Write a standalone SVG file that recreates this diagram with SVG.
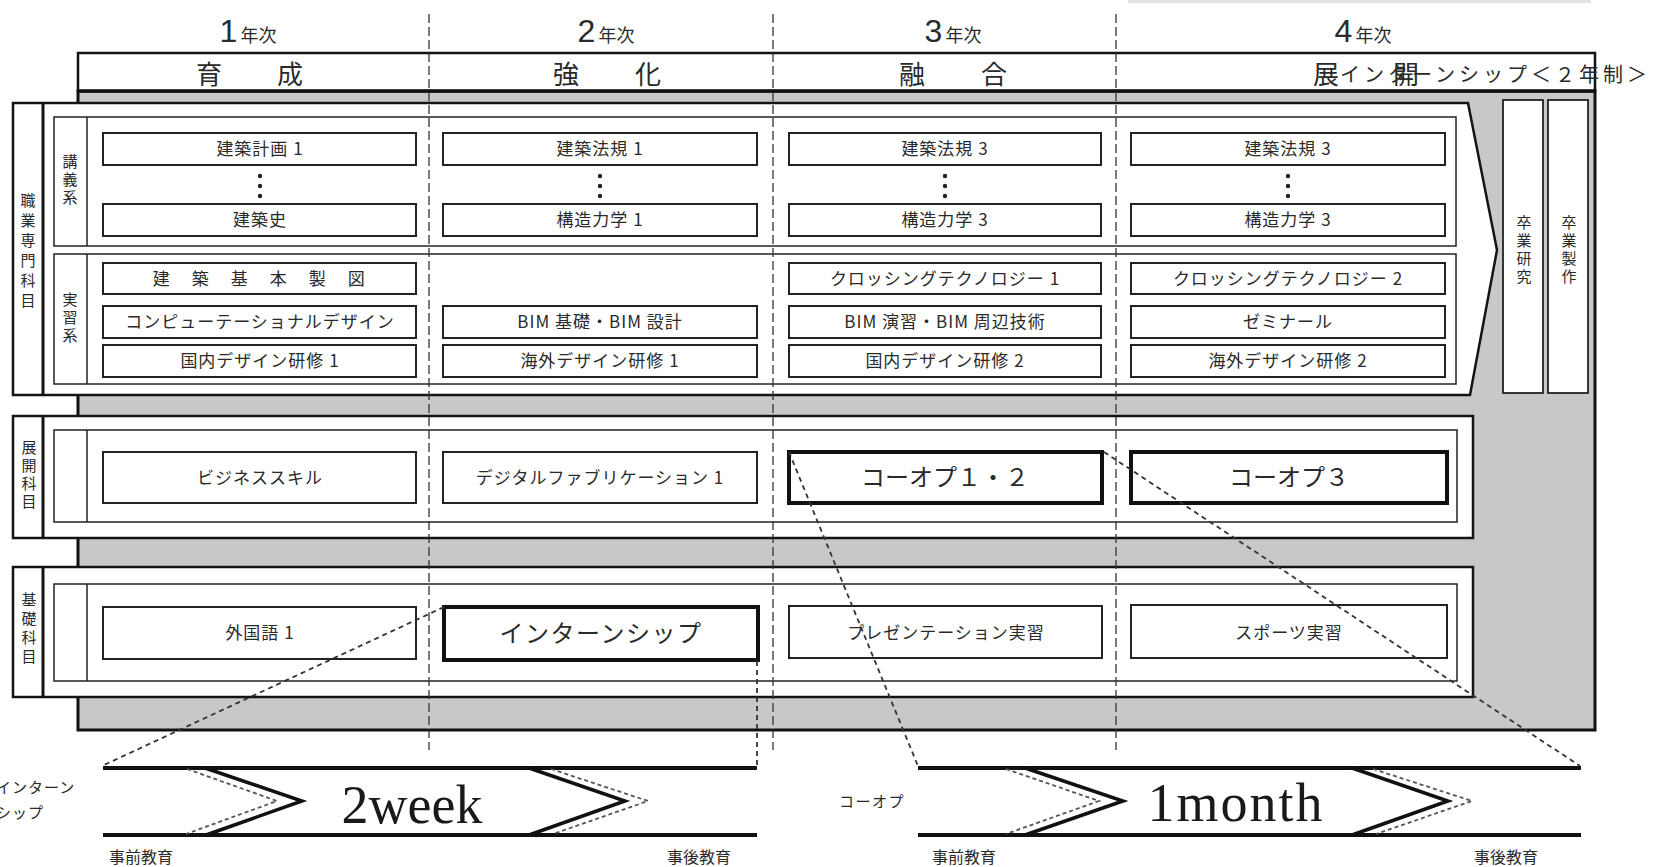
<svg xmlns="http://www.w3.org/2000/svg" width="1654" height="867" viewBox="0 0 1654 867">
<style>
text{font-family:"Noto Sans CJK JP","Noto Sans CJK SC",sans-serif;fill:#2a2a2a}
.c{font-size:17px;letter-spacing:1px;text-anchor:middle}
.cb{font-size:24px;text-anchor:middle}
.vs{font-size:15px;text-anchor:middle}
.hd{font-size:26px;text-anchor:middle}
.yr{text-anchor:middle}
.num{font-family:"Liberation Sans",sans-serif;font-size:32px}
.nen{font-size:18px}
.en{font-family:"Liberation Serif",serif;font-size:54px;text-anchor:middle;fill:#1a1a1a}
.sm{font-size:15px;letter-spacing:1px}
.ed{font-size:16px}
.blk{fill:#fff;stroke:#141414;stroke-width:2.5}
.inn{fill:#fff;stroke:#222;stroke-width:1.5}
.box{fill:#fff;stroke:#222;stroke-width:2}
.bold{fill:#fff;stroke:#111;stroke-width:4}
.col{fill:#fff;stroke:#222;stroke-width:1.8}
.div{stroke:#222;stroke-width:1.5}
.yl{stroke:#333;stroke-width:1.3;stroke-dasharray:9 4;fill:none}
.dl{stroke:#333;stroke-width:1.8;stroke-dasharray:5 4;fill:none}
.tl{stroke:#111;stroke-width:4;fill:none}
.ch{stroke:#111;stroke-width:3.5;fill:none}
.chd{stroke:#555;stroke-width:1.8;stroke-dasharray:4 3;fill:none}
.dot{fill:#222}
</style>

<rect x="1128" y="0" width="463" height="3" fill="#e2e2e2"/>

<!-- outer frame -->
<g id="frame">
<rect x="78" y="91" width="1517" height="639" fill="#c8c8c8" stroke="#111" stroke-width="3"/>
<rect x="78" y="53" width="1517" height="38" fill="#fff" stroke="#111" stroke-width="2.5"/>
<line x1="78" y1="91" x2="1595" y2="91" stroke="#111" stroke-width="3.5"/>
</g>

<!-- year labels -->
<g id="years">
<text class="yr" x="248" y="42"><tspan class="num">1</tspan><tspan class="nen" dx="3">年次</tspan></text>
<text class="yr" x="606" y="42"><tspan class="num">2</tspan><tspan class="nen" dx="3">年次</tspan></text>
<text class="yr" x="953" y="42"><tspan class="num">3</tspan><tspan class="nen" dx="3">年次</tspan></text>
<text class="yr" x="1363" y="42"><tspan class="num">4</tspan><tspan class="nen" dx="3">年次</tspan></text>
</g>

<!-- header phases -->
<g id="phases">
<text class="hd" x="209 290" y="84">育成</text>
<text class="hd" x="566 648" y="84">強化</text>
<text class="hd" x="912 994" y="84">融合</text>
<text class="hd" x="1326 1406" y="84">展開</text>
<text x="1340" y="82" style="font-size:20px;letter-spacing:4px">インターンシップ＜２年制＞</text>
</g>

<!-- 職業専門科目 -->
<g id="shokugyo">
<path class="blk" d="M13,103 H1468 L1497,250 L1470,395 H13 Z"/>
<line x1="43" y1="103" x2="43" y2="395" stroke="#141414" stroke-width="3"/>
<text class="vs"><tspan x="28" y="206">職</tspan><tspan x="28" y="226">業</tspan><tspan x="28" y="246">専</tspan><tspan x="28" y="266">門</tspan><tspan x="28" y="286">科</tspan><tspan x="28" y="306">目</tspan></text>
</g>

<g id="kougi">
<rect class="inn" x="54" y="117" width="1402" height="129"/>
<line class="div" x1="87" y1="117" x2="87" y2="246"/>
<text class="vs"><tspan x="70" y="167">講</tspan><tspan x="70" y="185">義</tspan><tspan x="70" y="203">系</tspan></text>
</g>

<g id="jisshu">
<rect class="inn" x="54" y="254" width="1402" height="130"/>
<line class="div" x1="87" y1="254" x2="87" y2="384"/>
<text class="vs"><tspan x="70" y="305">実</tspan><tspan x="70" y="323">習</tspan><tspan x="70" y="341">系</tspan></text>
</g>

<!-- 講義系 courses -->
<g id="k1"><rect class="box" x="103" y="133" width="313" height="32"/><text class="c" x="260" y="155">建築計画 1</text></g>
<g id="k2"><rect class="box" x="103" y="204" width="313" height="32"/><text class="c" x="260" y="226">建築史</text></g>
<g id="k3"><rect class="box" x="443" y="133" width="314" height="32"/><text class="c" x="600" y="155">建築法規 1</text></g>
<g id="k4"><rect class="box" x="443" y="204" width="314" height="32"/><text class="c" x="600" y="226">構造力学 1</text></g>
<g id="k5"><rect class="box" x="789" y="133" width="312" height="32"/><text class="c" x="945" y="155">建築法規 3</text></g>
<g id="k6"><rect class="box" x="789" y="204" width="312" height="32"/><text class="c" x="945" y="226">構造力学 3</text></g>
<g id="k7"><rect class="box" x="1131" y="133" width="314" height="32"/><text class="c" x="1288" y="155">建築法規 3</text></g>
<g id="k8"><rect class="box" x="1131" y="204" width="314" height="32"/><text class="c" x="1288" y="226">構造力学 3</text></g>
<g id="dots">
<circle class="dot" cx="260" cy="176" r="2.2"/><circle class="dot" cx="260" cy="186" r="2.2"/><circle class="dot" cx="260" cy="196" r="2.2"/>
<circle class="dot" cx="600" cy="176" r="2.2"/><circle class="dot" cx="600" cy="186" r="2.2"/><circle class="dot" cx="600" cy="196" r="2.2"/>
<circle class="dot" cx="945" cy="176" r="2.2"/><circle class="dot" cx="945" cy="186" r="2.2"/><circle class="dot" cx="945" cy="196" r="2.2"/>
<circle class="dot" cx="1288" cy="176" r="2.2"/><circle class="dot" cx="1288" cy="186" r="2.2"/><circle class="dot" cx="1288" cy="196" r="2.2"/>
</g>

<!-- 実習系 courses -->
<g id="j1"><rect class="box" x="103" y="263" width="313" height="31"/><text class="c" x="260" y="285" style="letter-spacing:2.5px">建　築　基　本　製　図</text></g>
<g id="j2"><rect class="box" x="103" y="306" width="313" height="32"/><text class="c" x="260" y="328">コンピューテーショナルデザイン</text></g>
<g id="j3"><rect class="box" x="103" y="345" width="313" height="32"/><text class="c" x="260" y="367">国内デザイン研修 1</text></g>
<g id="j4"><rect class="box" x="443" y="306" width="314" height="32"/><text class="c" x="600" y="328">BIM 基礎・BIM 設計</text></g>
<g id="j5"><rect class="box" x="443" y="345" width="314" height="32"/><text class="c" x="600" y="367">海外デザイン研修 1</text></g>
<g id="j6"><rect class="box" x="789" y="263" width="312" height="31"/><text class="c" x="945" y="285">クロッシングテクノロジー 1</text></g>
<g id="j7"><rect class="box" x="789" y="306" width="312" height="32"/><text class="c" x="945" y="328">BIM 演習・BIM 周辺技術</text></g>
<g id="j8"><rect class="box" x="789" y="345" width="312" height="32"/><text class="c" x="945" y="367">国内デザイン研修 2</text></g>
<g id="j9"><rect class="box" x="1131" y="263" width="314" height="31"/><text class="c" x="1288" y="285">クロッシングテクノロジー 2</text></g>
<g id="j10"><rect class="box" x="1131" y="306" width="314" height="32"/><text class="c" x="1288" y="328">ゼミナール</text></g>
<g id="j11"><rect class="box" x="1131" y="345" width="314" height="32"/><text class="c" x="1288" y="367">海外デザイン研修 2</text></g>

<!-- 卒業研究 / 卒業製作 -->
<g id="sotsuken">
<rect class="col" x="1503" y="100" width="40" height="293"/>
<text class="vs"><tspan x="1524" y="228">卒</tspan><tspan x="1524" y="246">業</tspan><tspan x="1524" y="264">研</tspan><tspan x="1524" y="282">究</tspan></text>
</g>
<g id="sotsusei">
<rect class="col" x="1548" y="100" width="40" height="293"/>
<text class="vs"><tspan x="1569" y="228">卒</tspan><tspan x="1569" y="246">業</tspan><tspan x="1569" y="264">製</tspan><tspan x="1569" y="282">作</tspan></text>
</g>

<!-- 展開科目 -->
<g id="tenkai">
<rect class="blk" x="13" y="416" width="1460" height="122"/>
<line x1="43" y1="416" x2="43" y2="538" stroke="#141414" stroke-width="3"/>
<rect class="inn" x="54" y="430" width="1403" height="92"/>
<line class="div" x1="87" y1="430" x2="87" y2="522"/>
<text class="vs"><tspan x="29" y="453">展</tspan><tspan x="29" y="471">開</tspan><tspan x="29" y="489">科</tspan><tspan x="29" y="507">目</tspan></text>
</g>
<g id="t1"><rect class="box" x="103" y="452" width="313" height="51"/><text class="c" x="260" y="484">ビジネススキル</text></g>
<g id="t2"><rect class="box" x="443" y="452" width="314" height="51"/><text class="c" x="600" y="484">デジタルファブリケーション 1</text></g>
<g id="t3"><rect class="bold" x="789" y="452" width="313" height="51"/><text class="cb" x="945" y="486">コーオプ１・２</text></g>
<g id="t4"><rect class="bold" x="1131" y="452" width="316" height="51"/><text class="cb" x="1289" y="486">コーオプ３</text></g>

<!-- 基礎科目 -->
<g id="kiso">
<rect class="blk" x="13" y="567" width="1460" height="130"/>
<line x1="43" y1="567" x2="43" y2="697" stroke="#141414" stroke-width="3"/>
<rect class="inn" x="54" y="584" width="1403" height="97"/>
<line class="div" x1="87" y1="584" x2="87" y2="681"/>
<text class="vs"><tspan x="29" y="605">基</tspan><tspan x="29" y="624">礎</tspan><tspan x="29" y="643">科</tspan><tspan x="29" y="662">目</tspan></text>
</g>
<g id="b1"><rect class="box" x="103" y="607" width="313" height="52"/><text class="c" x="260" y="639">外国語 1</text></g>
<g id="b2"><rect class="bold" x="444" y="607" width="314" height="53"/><text class="cb" x="601" y="642" style="letter-spacing:1.5px">インターンシップ</text></g>
<g id="b3"><rect class="box" x="789" y="606" width="313" height="52"/><text class="c" x="946" y="639">プレゼンテーション実習</text></g>
<g id="b4"><rect class="box" x="1131" y="605" width="316" height="53"/><text class="c" x="1289" y="639">スポーツ実習</text></g>

<!-- 2week timeline -->
<g id="week">
<line class="tl" x1="103" y1="768" x2="757" y2="768"/>
<line class="tl" x1="103" y1="835" x2="757" y2="835"/>
<polyline class="chd" points="187,769 277,801 186,834"/>
<polyline class="ch" points="205,768 302,801 206,835"/>
<polyline class="ch" points="529,768 625,801 529,835"/>
<polyline class="chd" points="551,769 648,801 553,834"/>
<text class="en" x="412" y="823">2week</text>
<text class="sm" x="-4" y="793">インターン</text>
<text class="sm" x="-4" y="818">シップ</text>
<text class="ed" x="109" y="863">事前教育</text>
<text class="ed" x="667" y="863">事後教育</text>
</g>

<!-- 1month timeline -->
<g id="month">
<line class="tl" x1="918" y1="768" x2="1581" y2="768"/>
<line class="tl" x1="918" y1="835" x2="1581" y2="835"/>
<polyline class="chd" points="1006,769 1099,801 1006,834"/>
<polyline class="ch" points="1025,768 1123,801 1025,835"/>
<polyline class="ch" points="1352,768 1448,801 1352,835"/>
<polyline class="chd" points="1373,769 1472,801 1376,834"/>
<text class="en" x="1236" y="821" style="letter-spacing:2px">1month</text>
<text class="sm" x="839" y="807" style="letter-spacing:1.5px">コーオプ</text>
<text class="ed" x="932" y="863">事前教育</text>
<text class="ed" x="1474" y="863">事後教育</text>
</g>

<!-- connectors -->
<g id="connectors">
<line class="yl" x1="429" y1="14" x2="429" y2="750"/>
<line class="yl" x1="773" y1="14" x2="773" y2="750"/>
<line class="yl" x1="1116" y1="14" x2="1116" y2="750"/>
<line class="dl" x1="444" y1="607" x2="104" y2="765"/>
<line class="dl" x1="757" y1="661" x2="757" y2="766"/>
<line class="dl" x1="789" y1="452" x2="918" y2="766"/>
<line class="dl" x1="1104" y1="452" x2="1580" y2="766"/>
</g>
</svg>
